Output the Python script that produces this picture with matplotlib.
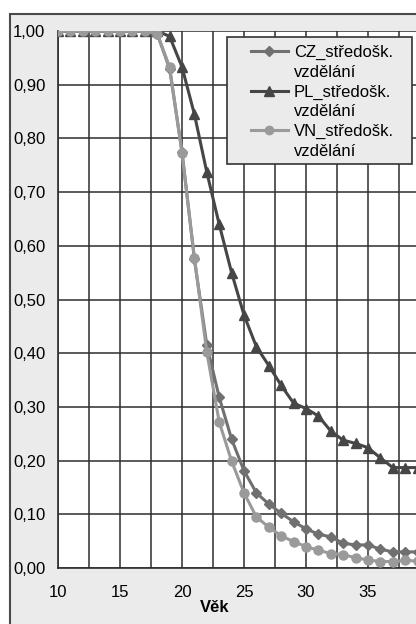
import numpy as np
import matplotlib
matplotlib.use("Agg")
import matplotlib.pyplot as plt
from matplotlib.patches import Rectangle
from matplotlib.lines import Line2D

plt.rcParams['font.family'] = ['Liberation Sans', 'DejaVu Sans']

# data
ages = list(range(10, 40))
cz = [1.0, 1.0, 1.0, 1.0, 1.0, 1.0, 1.0, 1.0, 0.995, 0.93,
      0.775, 0.575, 0.415, 0.318, 0.240, 0.181, 0.140, 0.119, 0.102, 0.086,
      0.073, 0.063, 0.058, 0.046, 0.043, 0.043, 0.035, 0.030, 0.030, 0.030]
pl = [1.0, 1.0, 1.0, 1.0, 1.0, 1.0, 1.0, 1.0, 1.0, 0.99,
      0.933, 0.845, 0.737, 0.640, 0.550, 0.471, 0.412, 0.377, 0.340, 0.307,
      0.297, 0.283, 0.255, 0.238, 0.232, 0.224, 0.205, 0.187, 0.187, 0.187]
vn = [1.0, 1.0, 1.0, 1.0, 1.0, 1.0, 1.0, 1.0, 0.995, 0.933,
      0.773, 0.578, 0.402, 0.272, 0.199, 0.140, 0.095, 0.076, 0.060, 0.049,
      0.040, 0.033, 0.027, 0.025, 0.019, 0.015, 0.012, 0.012, 0.014, 0.013]
series_names = ["CZ_středošk.", "PL_středošk.", "VN_středošk."]
second_line = "vzdělání"
xticks = [10, 15, 20, 25, 30, 35]
yticks = [0.0, 0.1, 0.2, 0.3, 0.4, 0.5, 0.6, 0.7, 0.8, 0.9, 1.0]
ytick_labels = ["0,00", "0,10", "0,20", "0,30", "0,40", "0,50",
                "0,60", "0,70", "0,80", "0,90", "1,00"]

W, H = 416, 624
fig = plt.figure(figsize=(W / 100, H / 100), dpi=100)
fig.patch.set_facecolor("white")

# outer chart frame (cropped at right and bottom)
fig.patches.append(Rectangle((10 / W, -0.1), 1.2, (H - 14) / H + 0.1,
                             transform=fig.transFigure, facecolor="#ebebeb",
                             edgecolor="#4a4a4a", linewidth=1.5, zorder=-1))

ax = fig.add_axes([58 / W, 1 - 568 / H, (W - 58) / W, 537 / H])
ax.set_facecolor("white")

ax.plot(ages, cz, color="#707070", lw=2.2, marker="D", ms=5.5, zorder=3)
ax.plot(ages, pl, color="#464646", lw=2.2, marker="^", ms=7.5, zorder=3)
ax.plot(ages, vn, color="#9a9a9a", lw=2.2, marker="o", ms=6.5, zorder=4)

ax.set_xlim(10, 10 + (W - 58) / 12.4)
ax.set_ylim(0, 1.0)
ax.set_xticks(xticks)
ax.set_xticks(np.arange(12.5, 40, 5), minor=True)
ax.set_yticks(yticks)
ax.set_yticklabels(ytick_labels)
ax.grid(True, which="both", color="#2e2e2e", lw=1.1, zorder=0)
ax.set_axisbelow(True)
ax.tick_params(which="both", length=0)
ax.tick_params(axis="y", labelsize=12, pad=9)
ax.tick_params(axis="x", labelsize=12, pad=12)
for side in ["top", "right"]:
    ax.spines[side].set_visible(False)
for side in ["left", "bottom"]:
    ax.spines[side].set_color("#2e2e2e")
    ax.spines[side].set_linewidth(1.2)

fig.text(215 / W, 1 - 607 / H, "Věk", ha="center", va="center",
         fontsize=12, fontweight="bold")

# legend box
ax.add_patch(Rectangle((227 / W, 1 - 164 / H), (412 - 227) / W, 127 / H,
                       transform=fig.transFigure, facecolor="#ebebeb",
                       edgecolor="#333333", linewidth=1.2, zorder=5,
                       clip_on=False))
blank = Line2D([], [], linestyle="none")
handles = [
    Line2D([], [], color="#707070", lw=2.2, marker="D", ms=5),
    blank,
    Line2D([], [], color="#464646", lw=2.2, marker="^", ms=7),
    blank,
    Line2D([], [], color="#9a9a9a", lw=2.2, marker="o", ms=6),
    blank,
]
labels = [series_names[0], second_line, series_names[1], second_line,
          series_names[2], second_line]
leg = ax.legend(handles, labels, loc="upper left",
                bbox_to_anchor=(251 / W, 1 - 45 / H),
                bbox_transform=fig.transFigure, frameon=False, fontsize=12,
                borderpad=0, borderaxespad=0, handlelength=2.2,
                handletextpad=0.36, labelspacing=0.28)
leg.set_zorder(6)

fig.savefig("out.png", dpi=100)
